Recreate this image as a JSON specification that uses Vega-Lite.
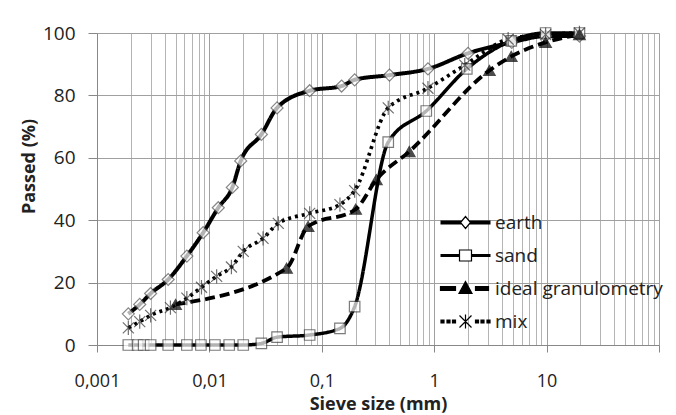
{
  "$schema": "https://vega.github.io/schema/vega-lite/v6.json",
  "width": 562,
  "height": 312,
  "autosize": {"type": "none"},
  "padding": {"left": 97, "top": 33, "right": 17, "bottom": 70},
  "background": "white",
  "config": {"view": {"stroke": null}, "font": "Open Sans"},
  "data": {
    "values": [
      {"series": "earth", "sieve": 0.0019, "passed": 10},
      {"series": "earth", "sieve": 0.0024, "passed": 13},
      {"series": "earth", "sieve": 0.003, "passed": 16.5},
      {"series": "earth", "sieve": 0.0043, "passed": 21},
      {"series": "earth", "sieve": 0.0063, "passed": 28.5},
      {"series": "earth", "sieve": 0.0088, "passed": 36},
      {"series": "earth", "sieve": 0.012, "passed": 44},
      {"series": "earth", "sieve": 0.016, "passed": 50.5},
      {"series": "earth", "sieve": 0.019, "passed": 59},
      {"series": "earth", "sieve": 0.029, "passed": 67.5},
      {"series": "earth", "sieve": 0.04, "passed": 76},
      {"series": "earth", "sieve": 0.078, "passed": 81.5},
      {"series": "earth", "sieve": 0.15, "passed": 83},
      {"series": "earth", "sieve": 0.196, "passed": 85},
      {"series": "earth", "sieve": 0.4, "passed": 86.5},
      {"series": "earth", "sieve": 0.88, "passed": 88.5},
      {"series": "earth", "sieve": 2, "passed": 93.5},
      {"series": "earth", "sieve": 4.9, "passed": 97},
      {"series": "earth", "sieve": 9.8, "passed": 99},
      {"series": "earth", "sieve": 19.6, "passed": 99},
      {"series": "sand", "sieve": 0.0019, "passed": 0},
      {"series": "sand", "sieve": 0.0023, "passed": 0},
      {"series": "sand", "sieve": 0.0026, "passed": 0},
      {"series": "sand", "sieve": 0.003, "passed": 0},
      {"series": "sand", "sieve": 0.0043, "passed": 0},
      {"series": "sand", "sieve": 0.0063, "passed": 0},
      {"series": "sand", "sieve": 0.0084, "passed": 0},
      {"series": "sand", "sieve": 0.0112, "passed": 0},
      {"series": "sand", "sieve": 0.015, "passed": 0},
      {"series": "sand", "sieve": 0.02, "passed": 0},
      {"series": "sand", "sieve": 0.029, "passed": 0.5},
      {"series": "sand", "sieve": 0.04, "passed": 2.5},
      {"series": "sand", "sieve": 0.078, "passed": 3.2},
      {"series": "sand", "sieve": 0.145, "passed": 5.3},
      {"series": "sand", "sieve": 0.196, "passed": 12.3},
      {"series": "sand", "sieve": 0.39, "passed": 65},
      {"series": "sand", "sieve": 0.85, "passed": 75},
      {"series": "sand", "sieve": 1.95, "passed": 88.5},
      {"series": "sand", "sieve": 4.85, "passed": 97.5},
      {"series": "sand", "sieve": 9.8, "passed": 100},
      {"series": "sand", "sieve": 19.6, "passed": 100},
      {"series": "ideal granulometry", "sieve": 0.005, "passed": 13},
      {"series": "ideal granulometry", "sieve": 0.0486, "passed": 24.6},
      {"series": "ideal granulometry", "sieve": 0.0755, "passed": 38},
      {"series": "ideal granulometry", "sieve": 0.2, "passed": 43.5},
      {"series": "ideal granulometry", "sieve": 0.306, "passed": 53},
      {"series": "ideal granulometry", "sieve": 0.6, "passed": 62},
      {"series": "ideal granulometry", "sieve": 3.1, "passed": 88},
      {"series": "ideal granulometry", "sieve": 4.85, "passed": 92.5},
      {"series": "ideal granulometry", "sieve": 9.8, "passed": 97},
      {"series": "ideal granulometry", "sieve": 19.6, "passed": 99.5},
      {"series": "mix", "sieve": 0.0019, "passed": 5.5},
      {"series": "mix", "sieve": 0.0024, "passed": 7.5},
      {"series": "mix", "sieve": 0.003, "passed": 9.5},
      {"series": "mix", "sieve": 0.0045, "passed": 12},
      {"series": "mix", "sieve": 0.0063, "passed": 15},
      {"series": "mix", "sieve": 0.0085, "passed": 18.5},
      {"series": "mix", "sieve": 0.0116, "passed": 22},
      {"series": "mix", "sieve": 0.0157, "passed": 25},
      {"series": "mix", "sieve": 0.02, "passed": 30},
      {"series": "mix", "sieve": 0.03, "passed": 34.2},
      {"series": "mix", "sieve": 0.041, "passed": 39},
      {"series": "mix", "sieve": 0.078, "passed": 42.2},
      {"series": "mix", "sieve": 0.145, "passed": 45},
      {"series": "mix", "sieve": 0.196, "passed": 49.5},
      {"series": "mix", "sieve": 0.39, "passed": 76},
      {"series": "mix", "sieve": 0.88, "passed": 82.3},
      {"series": "mix", "sieve": 1.87, "passed": 89.7},
      {"series": "mix", "sieve": 4.55, "passed": 98},
      {"series": "mix", "sieve": 9.8, "passed": 99.5},
      {"series": "mix", "sieve": 19.6, "passed": 100}
    ]
  },
  "layer": [
    {
      "mark": {"type": "line", "interpolate": "monotone", "color": "black", "strokeCap": "butt", "strokeJoin": "round"},
      "encoding": {
        "x": {
          "field": "sieve", "type": "quantitative",
          "scale": {"type": "log", "domain": [0.001, 100], "nice": false},
          "axis": {"orient": "bottom", "values": [0.002,0.003,0.004,0.005,0.006,0.007,0.008,0.009,0.02,0.03,0.04,0.05,0.06,0.07,0.08,0.09,0.2,0.3,0.4,0.5,0.6,0.7,0.8,0.9,2,3,4,5,6,7,8,9,20,30,40,50,60,70,80,90],
                   "grid": true, "gridColor": "#b4b4b4", "gridWidth": 1, "ticks": false, "labels": false, "domain": false, "title": null}
        },
        "y": {
          "field": "passed", "type": "quantitative",
          "scale": {"domain": [0, 100], "nice": false},
          "axis": {"values": [0, 20, 40, 60, 80, 100], "grid": true, "gridColor": "#a0a0a0", "tickSize": 9, "tickColor": "#888", "domainColor": "#888",
                   "labelFontSize": 19, "labelColor": "#222", "labelPadding": 13, "labelFlush": false,
                   "title": "Passed (%)", "titleFontSize": 18, "titleFontWeight": "bold", "titleColor": "#222", "titleX": -63, "titleY": 133, "titleAngle": -90, "titleBaseline": "alphabetic", "titleAlign": "center"}
        },
        "detail": {"field": "series"},
        "strokeDash": {"field": "series", "type": "nominal", "scale": {"domain": ["earth", "ideal granulometry", "mix", "sand"], "range": [[1, 0], [10, 5], [3, 4], [1, 0]]}, "legend": null},
        "strokeWidth": {"field": "series", "type": "nominal", "scale": {"domain": ["earth", "ideal granulometry", "mix", "sand"], "range": [4, 3.5, 3.5, 3]}, "legend": null}
      }
    },
    {
      "mark": {"type": "point", "strokeWidth": 1.2},
      "encoding": {
        "x": {
          "field": "sieve", "type": "quantitative",
          "scale": {"type": "log", "domain": [0.001, 100], "nice": false},
          "axis": {"orient": "bottom", "values": [0.001, 0.01, 0.1, 1, 10, 100], "grid": true, "gridColor": "#a0a0a0", "tickSize": 7, "tickColor": "#888", "domainColor": "#888",
                   "labelExpr": "datum.value < 0.005 ? '0,001' : datum.value < 0.05 ? '0,01' : datum.value < 0.5 ? '0,1' : datum.value < 5 ? '1' : datum.value < 50 ? '10' : ''",
                   "labelFontSize": 18, "labelColor": "#222", "labelPadding": 20, "labelFlush": false, "labelOverlap": false,
                   "title": "Sieve size (mm)", "titleFontSize": 18, "titleFontWeight": "bold", "titleColor": "#222", "titleY": 64, "titleBaseline": "alphabetic"}
        },
        "y": {
          "field": "passed", "type": "quantitative",
          "scale": {"domain": [0, 100], "nice": false},
          "axis": {"values": [0, 20, 40, 60, 80, 100], "grid": true, "gridColor": "#a0a0a0", "tickSize": 9, "tickColor": "#888", "domainColor": "#888",
                   "labelFontSize": 19, "labelColor": "#222", "labelPadding": 13, "labelFlush": false,
                   "title": "Passed (%)", "titleFontSize": 18, "titleFontWeight": "bold", "titleColor": "#222", "titleX": -63, "titleY": 133, "titleAngle": -90, "titleBaseline": "alphabetic", "titleAlign": "center"}
        },
        "shape": {"field": "series", "type": "nominal", "scale": {"domain": ["earth", "ideal granulometry", "mix", "sand"], "range": ["diamond", "triangle-up", "M-1,-1L1,1M-1,1L1,-1M0,-1.3L0,1.3", "square"]}, "legend": null},
        "fill": {"field": "series", "type": "nominal", "scale": {"domain": ["earth", "ideal granulometry", "mix", "sand"], "range": ["white", "black", "black", "white"]}, "legend": null},
        "stroke": {"field": "series", "type": "nominal", "scale": {"domain": ["earth", "ideal granulometry", "mix", "sand"], "range": ["#555555", "black", "#333333", "#444444"]}, "legend": null},
        "size": {"field": "series", "type": "nominal", "scale": {"domain": ["earth", "ideal granulometry", "mix", "sand"], "range": [144, 110, 110, 130]}, "legend": null}
      }
    },
    {
      "transform": [{"filter": "false"}],
      "mark": {"type": "point", "filled": true, "opacity": 1, "strokeWidth": 1.2},
      "encoding": {
        "shape": {
          "field": "series", "type": "nominal",
          "scale": {
            "domain": ["earth", "sand", "ideal granulometry", "mix"],
            "range": [
              "M-5,-0.3H-0.78M0.78,-0.3H5M-5,-0.1H-0.95M0.95,-0.1H5M-5,0.1H-0.95M0.95,0.1H5M-5,0.3H-0.78M0.78,0.3H5M-1,0L0,-1.2L1,0L0,1.2Z",
              "M-5,-0.2H-1.2M1.2,-0.2H5M-5,0H-1.2M1.2,0H5M-5,0.2H-1.2M1.2,0.2H5M-1.2,-1.1H1.2V1.1H-1.2Z",
              "M-5,-0.4H-2V0.4H-5ZM2,-0.4H4.6V0.4H2ZM0,-1.4L1.3,1H-1.3Z",
              "M-4.9,-0.3H-4.3V0.3H-4.9ZM-3.7,-0.3H-3.1V0.3H-3.7ZM-2.6,-0.3H-2V0.3H-2.6ZM2,-0.3H2.6V0.3H2ZM3.1,-0.3H3.7V0.3H3.1ZM4.3,-0.3H4.9V0.3H4.3ZM-1.2,-1.2L1.2,1.2M-1.2,1.2L1.2,-1.2M0,-1.4V1.4"
            ]
          },
          "legend": {
            "orient": "none", "legendX": 359, "legendY": 180, "title": null, "padding": 0,
            "symbolSize": 100, "symbolStrokeWidth": 1.2, "symbolStrokeColor": "black", "symbolOpacity": 1,
            "labelFont": "Open Sans", "labelFontSize": 19, "labelColor": "#222", "labelOffset": 20, "labelLimit": 300, "rowPadding": 13
          }
        },
        "fill": {
          "field": "series", "type": "nominal",
          "scale": {"domain": ["earth", "sand", "ideal granulometry", "mix"], "range": ["white", "white", "black", "black"]},
          "legend": {
            "orient": "none", "legendX": 359, "legendY": 180, "title": null, "padding": 0,
            "symbolSize": 100, "symbolStrokeWidth": 1.2, "symbolStrokeColor": "black", "symbolOpacity": 1,
            "labelFont": "Open Sans", "labelFontSize": 19, "labelColor": "#222", "labelOffset": 20, "labelLimit": 300, "rowPadding": 13
          }
        },
        "stroke": {
          "field": "series", "type": "nominal",
          "scale": {"domain": ["earth", "sand", "ideal granulometry", "mix"], "range": ["black", "black", "black", "black"]},
          "legend": {
            "orient": "none", "legendX": 359, "legendY": 180, "title": null, "padding": 0,
            "symbolSize": 100, "symbolStrokeWidth": 1.2, "symbolStrokeColor": "black", "symbolOpacity": 1,
            "labelFont": "Open Sans", "labelFontSize": 19, "labelColor": "#222", "labelOffset": 20, "labelLimit": 300, "rowPadding": 13
          }
        }
      }
    }
  ],
  "resolve": {"axis": {"x": "independent"}, "scale": {"shape": "independent", "fill": "independent", "stroke": "independent"}}
}
